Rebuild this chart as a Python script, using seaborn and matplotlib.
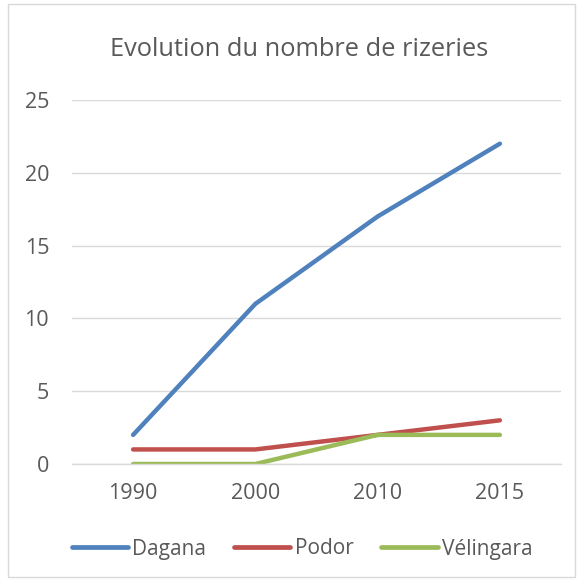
import numpy as np
import pandas as pd
import matplotlib
matplotlib.use("Agg")
import matplotlib.pyplot as plt
import seaborn as sns
from matplotlib.patches import Rectangle

# data
years = ["1990", "2000", "2010", "2015"]
dagana = [2, 11, 17, 22]
podor = [1, 1, 2, 3]
velingara = [0, 0, 2, 2]
series_names = ["Dagana", "Podor", "Vélingara"]
colors = ["#4F81BD", "#C0504D", "#9BBB59"]

df = pd.DataFrame({"Année": years * 3,
                   "Valeur": dagana + podor + velingara,
                   "Zone": np.repeat(series_names, len(years))})

sns.set_theme(style="white")
plt.rcParams["font.family"] = ["Open Sans", "DejaVu Sans"]
TXT = "#595959"
W, H = 583, 581

fig = plt.figure(figsize=(5.83, 5.81), dpi=100)
ax = fig.add_axes([72 / W, (H - 464) / H, (561 - 72) / W, (464 - 100) / H])

sns.lineplot(data=df, x="Année", y="Valeur", hue="Zone", palette=colors,
             linewidth=3.2, ax=ax, sort=False, legend=True)
for ln in ax.lines:
    ln.set_solid_capstyle("round")

ax.set_xlim(-0.5, 3.5)
ax.set_ylim(0, 25)
ax.set_yticks([0, 5, 10, 15, 20, 25])
ax.yaxis.grid(True, color="#D9D9D9", linewidth=1)
ax.set_axisbelow(True)
for s in ["top", "right", "left"]:
    ax.spines[s].set_visible(False)
ax.spines["bottom"].set_color("#D9D9D9")
ax.spines["bottom"].set_linewidth(1)
ax.set_xlabel("")
ax.set_ylabel("")
ax.tick_params(axis="both", length=0, labelsize=15.5, labelcolor=TXT)
ax.tick_params(axis="y", pad=16.5)
ax.tick_params(axis="x", pad=14)

leg = ax.legend(loc="center", bbox_to_anchor=(302 / W, 1 - 549 / H),
                bbox_transform=fig.transFigure, ncol=3, frameon=False,
                fontsize=15, labelcolor=TXT, handlelength=2.7, handletextpad=0.2,
                columnspacing=1.35, borderpad=0)
for h in leg.get_lines():
    h.set_solid_capstyle("round")
    h.set_linewidth(3.4)

fig.text(299 / W, 1 - 50 / H, "Evolution du nombre de rizeries",
         ha="center", va="center", fontsize=18.3, color=TXT)

fig.patches.append(Rectangle((8 / W, 4 / H), 567 / W, 573 / H,
                             transform=fig.transFigure, fill=False,
                             edgecolor="#D9D9D9", linewidth=1))

fig.savefig("out.png", dpi=100)
